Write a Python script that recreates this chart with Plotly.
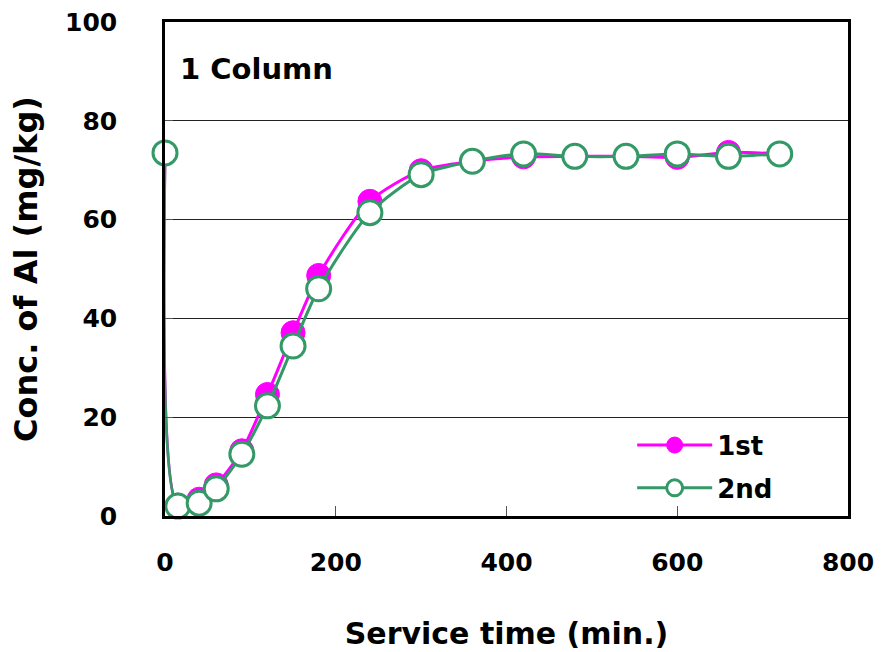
import plotly.graph_objects as go

time_1st = [0, 15, 40, 60, 90, 120, 150, 180, 240, 300, 360, 420, 480, 540, 600, 660, 720]
conc_1st = [73.5, 2.2, 3.4, 6.3, 13.2, 24.6, 37.1, 48.7, 63.7, 69.9, 71.8, 72.7, 72.8, 72.8, 72.6, 73.6, 73.3]
time_2nd = [0, 15, 40, 60, 90, 120, 150, 180, 240, 300, 360, 420, 480, 540, 600, 660, 720]
conc_2nd = [73.5, 2.0, 2.6, 5.5, 12.5, 22.3, 34.4, 46.0, 61.4, 69.1, 71.8, 73.3, 72.8, 72.8, 73.3, 72.8, 73.3]

x_ticks = [0, 200, 400, 600, 800]
y_ticks = [0, 20, 40, 60, 80, 100]

FONT = "DejaVu Sans, Liberation Sans, Arial, sans-serif"
MAG = "#FF00FF"
GRN = "#339966"

fig = go.Figure()
fig.add_trace(go.Scatter(
    x=time_1st, y=conc_1st, name="1st", mode="lines+markers", legendgroup="a",
    line=dict(color=MAG, width=3, shape="spline", smoothing=0.75),
    marker=dict(symbol="circle", size=24, color=MAG, line=dict(color=MAG, width=1)),
    cliponaxis=False,
))
fig.add_trace(go.Scatter(
    x=time_2nd, y=conc_2nd, name="2nd", mode="lines+markers", legendgroup="b",
    line=dict(color=GRN, width=3, shape="spline", smoothing=0.75),
    marker=dict(symbol="circle", size=24, color="white", line=dict(color=GRN, width=3)),
    cliponaxis=False,
))

fig.add_annotation(
    text="1 Column", xref="paper", yref="paper", x=0.019, y=0.905,
    xanchor="left", yanchor="middle", showarrow=False,
    font=dict(family=FONT, size=29, color="black", weight="bold"),
)

fig.update_layout(
    width=881, height=652,
    margin=dict(l=165, r=33, t=22, b=136),
    paper_bgcolor="white", plot_bgcolor="white",
    font=dict(family=FONT, size=25, color="black", weight="bold"),
    showlegend=True,
    legend=dict(
        x=0.684, y=0.191, xanchor="left", yanchor="top",
        bgcolor="rgba(0,0,0,0)", font=dict(family=FONT, size=26, color="black", weight="bold"),
        itemwidth=75, tracegroupgap=6,
    ),
    xaxis=dict(
        range=[0, 800], tickvals=x_ticks, ticktext=[str(v) for v in x_ticks],
        showgrid=False, zeroline=False, automargin=False,
        showline=True, linecolor="black", linewidth=2.5, mirror=True,
        ticks="inside", ticklen=10, tickcolor="#555", tickwidth=1,
        tickfont=dict(family=FONT, size=25, color="black", weight="bold"),
        ticklabelstandoff=22,
        title=dict(text="Service time (min.)", font=dict(family=FONT, size=30, color="black", weight="bold"), standoff=48),
    ),
    yaxis=dict(
        range=[0, 100], tickvals=y_ticks, ticktext=[str(v) for v in y_ticks],
        showgrid=True, gridcolor="#222", gridwidth=1, zeroline=False, automargin=False,
        showline=True, linecolor="black", linewidth=2.5, mirror=True,
        ticks="inside", ticklen=8, tickcolor="#555", tickwidth=1,
        tickfont=dict(family=FONT, size=25, color="black", weight="bold"),
        ticklabelstandoff=40,
        title=dict(text="Conc. of Al (mg/kg)", font=dict(family=FONT, size=32, color="black", weight="bold"), standoff=18),
    ),
)

fig.write_html("out.html")
